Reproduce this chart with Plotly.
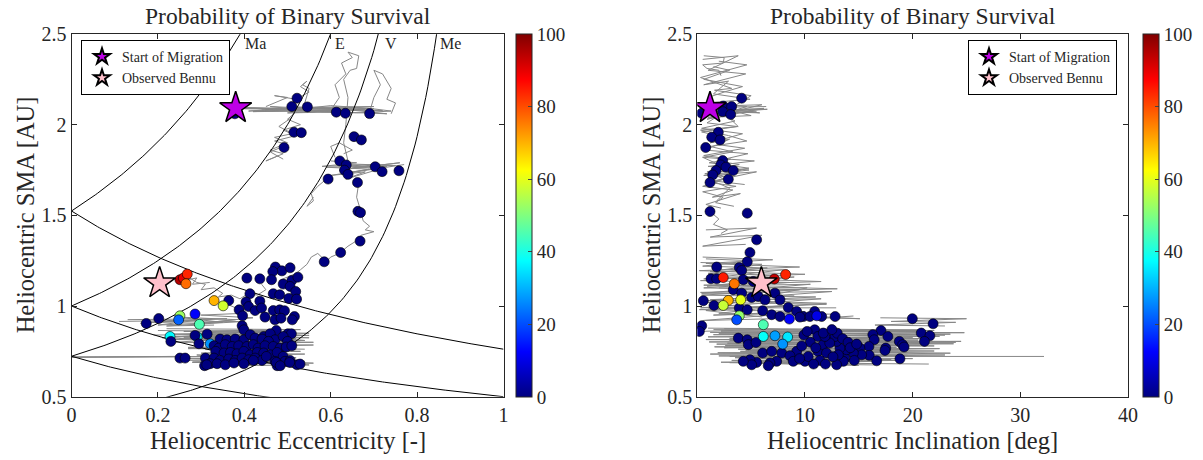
import numpy as np
import plotly.graph_objects as go

# ---------------- data ----------------
# Left panel: end points (eccentricity, SMA, survival probability %)
left_ecc = [0.378, 0.522, 0.510, 0.546, 0.613, 0.634, 0.690, 0.515, 0.532, 0.492, 0.654, 0.671,
            0.621, 0.636, 0.632, 0.640, 0.594, 0.662, 0.703, 0.719, 0.758, 0.663, 0.669,
            0.668, 0.623, 0.585, 0.472, 0.487, 0.506, 0.466, 0.406, 0.436, 0.463, 0.510, 0.524,
            0.490, 0.506, 0.519, 0.413, 0.467, 0.482, 0.503, 0.521, 0.404, 0.436, 0.364, 0.410,
            0.425, 0.440, 0.388, 0.467, 0.482, 0.493, 0.396, 0.448, 0.471, 0.485, 0.516, 0.511,
            0.474, 0.501, 0.509, 0.395, 0.399,
            0.251, 0.259, 0.268, 0.265, 0.330, 0.351, 0.251, 0.248, 0.286, 0.296, 0.228, 0.291, 0.321,
            0.202, 0.173, 0.230, 0.286, 0.314, 0.295, 0.251, 0.263,
            0.344, 0.360, 0.379, 0.399, 0.414, 0.425, 0.445, 0.460, 0.471, 0.490, 0.500, 0.441, 0.456,
            0.330, 0.341, 0.356, 0.372, 0.387, 0.406, 0.421, 0.432, 0.448, 0.467, 0.483, 0.497, 0.510,
            0.334, 0.353, 0.368, 0.383, 0.399, 0.414, 0.430, 0.445, 0.460, 0.476, 0.490,
            0.310, 0.330, 0.344, 0.364, 0.379, 0.395, 0.410, 0.425, 0.441, 0.451, 0.471, 0.494, 0.506,
            0.308, 0.321, 0.337, 0.356, 0.376, 0.399, 0.421, 0.476, 0.522, 0.313, 0.474, 0.483, 0.505, 0.529]
left_sma = [2.060, 2.146, 2.100, 2.098, 2.069, 2.063, 2.061, 1.958, 1.956, 1.874, 1.934, 1.916,
            1.800, 1.778, 1.749, 1.726, 1.700, 1.681, 1.768, 1.741, 1.746, 1.522, 1.515,
            1.358, 1.295, 1.244, 1.215, 1.194, 1.211, 1.190, 1.154, 1.150, 1.145, 1.141, 1.159,
            1.121, 1.108, 1.080, 1.068, 1.068, 1.062, 1.042, 1.038, 1.022, 1.027, 1.030, 0.997,
            0.975, 0.989, 0.979, 0.975, 0.979, 0.974, 0.946, 0.939, 0.924, 0.933, 0.942, 0.924,
            0.865, 0.847, 0.847, 0.891, 0.869,
            1.145, 1.154, 1.176, 1.123, 1.030, 1.001, 0.946, 0.924, 0.956, 0.899, 0.832, 0.830, 0.792,
            0.931, 0.904, 0.805, 0.838, 0.845, 0.792, 0.713, 0.713,
            0.818, 0.814, 0.818, 0.814, 0.842, 0.823, 0.832, 0.847, 0.814, 0.832, 0.805, 0.818, 0.805,
            0.781, 0.768, 0.787, 0.777, 0.781, 0.777, 0.787, 0.768, 0.781, 0.777, 0.768, 0.774, 0.781,
            0.750, 0.741, 0.744, 0.737, 0.750, 0.731, 0.744, 0.741, 0.731, 0.744, 0.722,
            0.713, 0.713, 0.700, 0.708, 0.700, 0.713, 0.704, 0.713, 0.700, 0.722, 0.695, 0.695, 0.700,
            0.671, 0.682, 0.682, 0.676, 0.686, 0.682, 0.700, 0.671, 0.676, 0.676, 0.689, 0.671, 0.689, 0.680]
left_prob = [0] * 64 + [95, 90, 84, 77, 70, 58, 53, 22, 12, 45, 37, 36, 27] + [0] * (len(left_ecc) - 77)

# Right panel: end points (inclination deg, SMA, survival probability %)
right_inc = [0.41, 2.41, 3.19, 2.36, 3.10, 4.12, 1.95, 1.34, 2.11, 0.78,
             2.36, 2.17, 2.66, 3.34, 1.74, 1.43, 2.88, 1.18, 1.18, 4.64,
             5.51, 4.89, 4.64, 3.90, 4.12, 1.80, 1.27, 1.80, 4.27, 5.20,
             3.34, 4.12, 5.05, 5.66, 6.29, 7.21, 7.68, 0.56, 1.55,
             3.90, 4.64, 6.07, 6.91, 7.68, 8.45, 9.23, 9.85, 0.41, 0.19,
             3.81, 4.64, 4.74, 5.45, 6.07, 6.91, 7.84, 9.23, 8.61, 7.37, 6.75, 6.59, 5.51, 4.89, 5.05,
             8.91, 10.0, 10.3, 11.2, 10.9, 11.2, 10.9, 10.46, 9.53, 12.2, 11.7, 4.27,
             12.8, 19.97, 21.9, 17.06, 16.3, 17.7, 16.43, 20.8, 21.6, 21.1, 18.76, 19.07, 19.2, 17.5,
             17.43, 18.82, 15.94, 15.97, 15.1, 15.26, 16.66, 14.49, 14.58, 13.7, 13.56, 13.87, 13.25,
             12.94, 12.78, 12.3, 12.0, 11.85, 11.7, 11.55, 13.1, 12.94,
             10.5, 11.0, 13.0, 13.5, 14.0, 14.2, 14.8, 12.6, 11.4, 9.7, 9.9, 10.2, 12.5, 11.9, 10.8, 9.5,
             2.41, 3.44, 7.15, 8.20, 2.88, 4.03, 2.41, 3.90, 3.66, 8.55, 6.13, 6.13, 7.21, 8.39, 7.93, 11.1]
right_sma = [2.063, 2.103, 2.100, 2.072, 2.056, 2.146, 1.958, 1.931, 1.916, 1.874,
             1.802, 1.778, 1.766, 1.747, 1.747, 1.723, 1.699, 1.681, 1.521, 1.512,
             1.365, 1.295, 1.244, 1.212, 1.196, 1.215, 1.150, 1.150, 1.145, 1.135,
             1.090, 1.071, 1.047, 1.053, 1.034, 1.071, 1.034, 1.029, 1.003,
             0.989, 0.979, 0.974, 0.952, 0.942, 0.992, 0.970, 0.942, 0.891, 0.860,
             0.823, 0.814, 0.787, 0.799, 0.741, 0.750, 0.741, 0.750, 0.726, 0.695, 0.686, 0.671, 0.689, 0.704, 0.676,
             0.695, 0.695, 0.722, 0.750, 0.869, 0.832, 0.970, 0.942, 0.939, 0.814, 0.787, 0.695,
             0.942, 0.930, 0.902, 0.865, 0.842, 0.832, 0.814, 0.851, 0.836, 0.805, 0.805, 0.787, 0.774, 0.768,
             0.755, 0.709, 0.777, 0.728, 0.768, 0.731, 0.698, 0.741, 0.700, 0.713, 0.695, 0.759, 0.768,
             0.805, 0.832, 0.796, 0.741, 0.832, 0.851, 0.942, 0.731, 0.676,
             0.800, 0.770, 0.850, 0.820, 0.800, 0.770, 0.790, 0.720, 0.700, 0.780, 0.840, 0.860, 0.870, 0.680, 0.680, 0.710,
             1.157, 1.123, 1.149, 1.174, 1.031, 1.034, 1.003, 0.946, 0.924, 0.928, 0.897, 0.832, 0.836, 0.829, 0.790, 0.946]
right_prob = [0] * (len(right_inc) - 16) + [85, 76, 93, 84, 70, 60, 57, 52, 20, 12, 45, 38, 28, 35, 27, 10]

# Reference objects
start_ecc, start_sma, start_inc = 0.380, 2.092, 1.18
bennu_ecc, bennu_sma, bennu_inc = 0.204, 1.126, 5.95

# Planet semi-major axes (AU) for crossing curves
planet_names = ["Me", "V", "E", "Ma"]
planet_sma = [0.387, 0.723, 1.000, 1.524]

# Gray migration tracks (None separates tracks) - left panel (ecc, sma)
track_l_ecc = [0.38, 0.47, 0.41, 0.55, 0.44, 0.62, 0.50, 0.68, 0.57, 0.73, 0.61, 0.70, 0.53, 0.64, 0.46, 0.58, 0.66, 0.74, 0.69, 0.60, 0.52, None,
               0.40, 0.65, 0.45, 0.72, 0.50, 0.70, 0.42, 0.60, 0.39, 0.67, None,
               0.45, 0.48, 0.50, 0.47, 0.52, 0.55, 0.53, 0.545, 0.535, 0.55, 0.54, None,
               0.52, 0.50, 0.53, 0.49, 0.51, 0.47, 0.50, 0.48, 0.46, 0.49, 0.47, 0.45, 0.48, None,
               0.51, 0.48, 0.52, 0.47, 0.50, 0.46, 0.49, None,
               0.60, 0.62, 0.61, 0.635, 0.625, 0.65, 0.64, 0.665, 0.66, 0.645, 0.63, 0.64, 0.635, 0.63, 0.64, None,
               0.69, 0.70, 0.715, 0.70, 0.72, 0.74, 0.73, 0.75, 0.74, None,
               0.61, 0.60, 0.62, 0.65, 0.63, None,
               0.60, 0.66, 0.58, 0.70, 0.62, 0.76, 0.65, 0.73, 0.60, 0.68, 0.635, 0.72, 0.64, None,
               0.62, 0.75, 0.59, 0.69, 0.63, 0.77, None,
               0.59, 0.57, 0.555, 0.56, 0.545, 0.56, None,
               0.665, 0.66, 0.67, 0.675, 0.69, 0.68, 0.70, 0.67, 0.66, 0.64, 0.62, 0.60, 0.59, 0.57, 0.555, 0.545, 0.53, 0.52, 0.50, 0.48, None,
               0.255, 0.27, 0.29, 0.31, 0.30, 0.33, 0.35, 0.34, 0.37, 0.39, 0.41, 0.43, 0.45, 0.44, None,
               0.26, 0.29, 0.28, 0.32, None,
               0.33, 0.36, 0.38, 0.40, 0.42, None,
               0.11, 0.25, 0.16, 0.32, 0.20, 0.35, 0.24, 0.38, 0.28, 0.42, 0.30, 0.40, None,
               0.13, 0.36, 0.18, 0.40, 0.22, 0.33, None,
               0.19, 0.45, 0.22, 0.52, 0.25, 0.55, 0.28, 0.50, 0.24, 0.54, 0.30, 0.47, 0.21, 0.53, None,
               0.22, 0.53, 0.26, 0.55, 0.24, 0.50, 0.31, 0.56, 0.27, 0.52, 0.30, 0.54, 0.35, 0.49, 0.28, 0.51, None,
               0.20, 0.48, 0.23, 0.55, 0.26, 0.52, 0.29, 0.56, 0.33, 0.50, 0.27, 0.54, None,
               0.0, 0.30, 0.0, 0.28, 0.0, 0.33, 0.0, 0.27, None,
               0.25, 0.50, 0.28, 0.54, 0.30, 0.56, 0.27, 0.52, 0.32, 0.55, 0.29, 0.48, 0.33, 0.53, 0.31, 0.50]
track_l_sma = [2.09, 2.085, 2.075, 2.095, 2.08, 2.07, 2.065, 2.085, 2.075, 2.06, 2.09, 2.10, 2.095, 2.08, 2.10, 2.07, 2.065, 2.075, 2.09, 2.105, 2.085, None,
               2.088, 2.092, 2.082, 2.078, 2.098, 2.088, 2.072, 2.076, 2.095, 2.082, None,
               2.10, 2.13, 2.15, 2.16, 2.14, 2.18, 2.21, 2.24, 2.22, 2.20, 2.12, None,
               2.07, 2.03, 2.00, 1.97, 1.95, 1.93, 1.90, 1.88, 1.86, 1.84, 1.82, 1.80, 1.83, None,
               2.04, 1.99, 1.94, 1.91, 1.89, 1.85, 1.81, None,
               2.08, 2.15, 2.22, 2.28, 2.34, 2.37, 2.40, 2.38, 2.31, 2.30, 2.25, 2.15, 2.00, 1.90, 1.80, None,
               2.07, 2.15, 2.22, 2.30, 2.28, 2.20, 2.14, 2.12, 2.06, None,
               1.82, 1.88, 1.90, 1.86, 1.84, None,
               1.80, 1.79, 1.77, 1.78, 1.75, 1.79, 1.76, 1.77, 1.72, 1.74, 1.70, 1.76, 1.78, None,
               1.785, 1.775, 1.765, 1.755, 1.73, 1.78, None,
               1.70, 1.66, 1.62, 1.58, 1.55, 1.60, None,
               1.68, 1.60, 1.52, 1.47, 1.44, 1.42, 1.41, 1.39, 1.36, 1.33, 1.29, 1.27, 1.245, 1.29, 1.27, 1.23, 1.20, 1.18, 1.16, 1.14, None,
               1.15, 1.16, 1.13, 1.12, 1.09, 1.10, 1.07, 1.05, 1.06, 1.04, 1.07, 1.06, 1.09, 1.12, None,
               1.14, 1.155, 1.12, 1.13, None,
               1.03, 1.01, 0.99, 1.00, 0.97, None,
               0.915, 0.92, 0.905, 0.93, 0.895, 0.91, 0.94, 0.925, 0.90, 0.935, 0.95, 0.96, None,
               0.925, 0.93, 0.91, 0.915, 0.89, 0.895, None,
               0.84, 0.845, 0.83, 0.835, 0.82, 0.825, 0.85, 0.855, 0.815, 0.81, 0.86, 0.865, 0.825, 0.80, None,
               0.875, 0.87, 0.86, 0.85, 0.80, 0.795, 0.79, 0.785, 0.765, 0.76, 0.74, 0.735, 0.725, 0.715, 0.69, 0.68, None,
               0.865, 0.858, 0.845, 0.838, 0.828, 0.82, 0.81, 0.80, 0.79, 0.782, 0.772, 0.762, None,
               0.720, 0.720, 0.722, 0.718, 0.719, 0.721, 0.717, 0.723, None,
               0.70, 0.705, 0.69, 0.695, 0.68, 0.685, 0.71, 0.715, 0.67, 0.675, 0.73, 0.735, 0.745, 0.75, 0.76, 0.77]

# Gray migration tracks - right panel (inclination, sma)
track_r_inc = [0.5, 3.8, 1.0, 4.5, 0.6, 2.9, 1.5, 4.9, 0.8, 3.5, 0.4, 4.2, 1.2, 3.0, 0.7, 4.7, 1.8, 3.9, 0.9, 2.5, 0.5, 3.3, 1.4, 4.0, 0.8, 2.2, None,
               2.0, 4.6, 0.3, 3.2, 1.6, 5.0, 0.9, 3.7, 0.4, 2.6, 1.9, 4.4, 0.6, 3.1, 1.1, 4.8, 0.7, 2.8, 1.3, 3.6, 0.5, 2.4, 1.7, 3.4, None,
               1.5, 3.0, 0.6, 4.2, 2.5, 1.0, 3.8, 0.3, 2.9, 4.6, 1.2, 3.3, 0.5, 2.0, 4.1, 1.0, 3.0, 1.8, None,
               0.6, 2.5, 2.4, 0.5, 0.9, 2.0, 2.2, None,
               0.3, 6.5, 0.8, 5.5, 0.5, 6.0, 1.0, 5.0, 0.4, 4.6, 0.9, 6.2, 0.6, 5.8, 1.2, 6.4, None,
               0.5, 5.3, 1.0, 4.8, 0.6, 5.5, 1.5, 4.4, None,
               1.2, 2.0, 1.5, 2.8, 2.2, None,
               0.8, 5.5, 1.2, 6.0, 0.5, 4.5, None,
               0.8, 5.0, 0.5, 6.5, 1.0, 7.5, 0.3, 8.5, 0.6, 9.5, 0.4, 11.0, 0.8, 12.0, 0.2, 10.0, 1.5, 9.0, 0.5, 7.0, None,
               0.3, 6.0, 1.2, 8.0, 0.6, 9.0, 0.9, 10.5, 0.4, 12.5, 1.0, 11.5, 0.3, 8.0, 2.0, 13.0, None,
               0.5, 7.0, 0.8, 9.5, 0.2, 10.0, 1.4, 11.5, 0.6, 13.0, 0.3, 9.0, 1.2, 12.0, 0.8, 6.0, None,
               2.0, 10.2, 1.0, 12.9, None,
               1.5, 22.0, 2.0, 23.5, 1.0, 20.0, 3.0, 24.5, 1.8, 21.0, 2.5, 22.5, 4.0, 19.5, 1.2, 23.0, 3.5, 18.0, 2.2, 21.5, None,
               2.5, 20.5, 1.2, 23.0, 3.5, 21.5, 0.8, 24.0, 2.8, 22.0, 1.6, 19.0, 4.5, 23.5, 2.0, 20.0, 3.2, 17.0, 5.0, 16.5, None,
               1.0, 21.0, 2.2, 24.8, 1.5, 22.5, 3.0, 20.5, 1.1, 23.8, 2.6, 18.5, 3.8, 22.0, 1.9, 19.5, 4.2, 18.5, 3.0, 15.0, None,
               3.0, 32.2, None,
               17.0, 25.0, 18.0, 24.0, 16.5, 23.0, None,
               11.7, 15.1, 12.0, 14.5, None,
               0.2, 6.0]
track_r_sma = [2.36, 2.38, 2.30, 2.28, 2.22, 2.24, 2.17, 2.14, 2.12, 2.02, 1.98, 1.95, 1.90, 1.92, 1.86, 1.84, 1.80, 1.78, 1.74, 1.70, 1.66, 1.64, 1.60, 1.62, 1.56, 1.54, None,
               2.35, 2.33, 2.26, 2.20, 2.19, 2.16, 2.01, 1.99, 1.96, 1.93, 1.89, 1.87, 1.83, 1.81, 1.79, 1.76, 1.73, 1.71, 1.68, 1.66, 1.63, 1.60, 1.57, 1.55, None,
               2.32, 2.30, 2.25, 2.21, 2.18, 2.15, 1.99, 1.97, 1.94, 1.91, 1.88, 1.85, 1.82, 1.78, 1.75, 1.70, 1.65, 1.58, None,
               2.38, 2.37, 2.34, 2.33, 2.31, 2.30, 2.27, None,
               2.08, 2.085, 2.06, 2.07, 2.10, 2.11, 2.04, 2.05, 2.12, 2.10, 2.03, 2.09, 2.075, 2.065, 2.095, 2.1, None,
               1.82, 1.80, 1.77, 1.75, 1.72, 1.74, 1.69, 1.67, None,
               1.52, 1.48, 1.45, 1.42, 1.40, None,
               1.42, 1.43, 1.38, 1.39, 1.33, 1.34, None,
               1.26, 1.25, 1.22, 1.21, 1.18, 1.17, 1.14, 1.13, 1.10, 1.09, 1.06, 1.05, 1.02, 1.01, 0.98, 0.97, 0.95, 0.96, 0.92, 0.93, None,
               1.24, 1.23, 1.19, 1.20, 1.15, 1.16, 1.11, 1.12, 1.07, 1.08, 1.03, 1.04, 0.99, 1.00, 0.96, 0.955, None,
               1.27, 1.255, 1.235, 1.215, 1.195, 1.175, 1.155, 1.135, 1.115, 1.095, 1.075, 1.055, 1.035, 1.015, 0.975, 0.94, None,
               1.10, 1.10, 0.99, 0.99, None,
               0.87, 0.865, 0.85, 0.845, 0.83, 0.825, 0.81, 0.805, 0.79, 0.785, 0.77, 0.765, 0.75, 0.745, 0.735, 0.73, 0.715, 0.705, 0.69, 0.68, None,
               0.875, 0.86, 0.855, 0.84, 0.835, 0.82, 0.815, 0.80, 0.795, 0.78, 0.775, 0.76, 0.755, 0.74, 0.725, 0.71, 0.70, 0.695, 0.685, 0.675, None,
               0.878, 0.868, 0.862, 0.853, 0.842, 0.833, 0.822, 0.812, 0.802, 0.792, 0.782, 0.772, 0.762, 0.752, 0.742, 0.728, 0.712, 0.700, 0.688, 0.672, None,
               0.722, 0.722, None,
               0.935, 0.93, 0.915, 0.91, 0.895, 0.89, None,
               0.94, 0.93, 0.935, 0.945, None,
               0.86, 0.87]

# colorbar / axis ticks
cbar_ticks = [0, 20, 40, 60, 80, 100]
ecc_ticks = [0, 0.2, 0.4, 0.6, 0.8, 1]
inc_ticks = [0, 10, 20, 30, 40]
sma_ticks = [0.5, 1, 1.5, 2, 2.5]

# ---------------- figure ----------------
W, H = 1203, 460
FONT = "Liberation Serif"
INK = "rgb(38,38,38)"
jet = [[0, "rgb(0,0,128)"], [0.125, "rgb(0,0,255)"], [0.375, "rgb(0,255,255)"],
       [0.625, "rgb(255,255,0)"], [0.875, "rgb(255,0,0)"], [1, "rgb(128,0,0)"]]

def px(x):
    return x / W

def py(y):
    return (H - y) / H

L0, L1 = 71.5, 503.5
R0, R1 = 697.3, 1128.0
T, B = 34.0, 396.7

fig = go.Figure()
gray = "rgb(135,135,135)"

# tracks
fig.add_trace(go.Scatter(x=track_l_ecc, y=track_l_sma, mode="lines", line=dict(color=gray, width=1),
                         xaxis="x", yaxis="y", showlegend=False, hoverinfo="skip"))
fig.add_trace(go.Scatter(x=track_r_inc, y=track_r_sma, mode="lines", line=dict(color=gray, width=1),
                         xaxis="x2", yaxis="y2", showlegend=False, hoverinfo="skip"))

# planet crossing curves
e_grid = np.linspace(0, 1, 201)
for name, ap in zip(planet_names, planet_sma):
    fig.add_trace(go.Scatter(x=e_grid, y=ap / (1 - np.minimum(e_grid, 0.999)), mode="lines",
                             line=dict(color="black", width=1), xaxis="x", yaxis="y",
                             showlegend=False, hoverinfo="skip"))
    fig.add_trace(go.Scatter(x=e_grid, y=ap / (1 + e_grid), mode="lines",
                             line=dict(color="black", width=1), xaxis="x", yaxis="y",
                             showlegend=False, hoverinfo="skip"))

# scatter end points
mk = dict(size=10, line=dict(color="black", width=0.6))
fig.add_trace(go.Scatter(x=left_ecc, y=left_sma, mode="markers", xaxis="x", yaxis="y", showlegend=False,
                         marker=dict(color=left_prob, coloraxis="coloraxis", **mk)))
fig.add_trace(go.Scatter(x=right_inc, y=right_sma, mode="markers", xaxis="x2", yaxis="y2", showlegend=False,
                         marker=dict(color=right_prob, coloraxis="coloraxis2", **mk)))

# stars
for ax, ay, lg, xs, xb in [("x", "y", "legend", start_ecc, bennu_ecc), ("x2", "y2", "legend2", start_inc, bennu_inc)]:
    fig.add_trace(go.Scatter(x=[xs], y=[start_sma], mode="markers", name="Start of Migration",
                             xaxis=ax, yaxis=ay, legend=lg,
                             marker=dict(symbol="star", size=24, color="rgb(190,0,230)",
                                         line=dict(color="black", width=1.5))))
    fig.add_trace(go.Scatter(x=[xb], y=[bennu_sma], mode="markers", name="Observed Bennu",
                             xaxis=ax, yaxis=ay, legend=lg,
                             marker=dict(symbol="star", size=24, color="rgb(255,192,203)",
                                         line=dict(color="black", width=1.5))))

axis_common = dict(showgrid=False, zeroline=False, showline=True, linecolor=INK, linewidth=1,
                   mirror="ticks", ticks="inside", ticklen=5, tickcolor=INK,
                   tickfont=dict(family=FONT, size=20, color=INK))

cb_common = dict(thickness=16, len=(B - T) / H, lenmode="fraction", y=py((T + B) / 2), yanchor="middle",
                 tickvals=cbar_ticks, ticks="inside", ticklen=4, outlinecolor=INK, outlinewidth=1,
                 tickfont=dict(family=FONT, size=19, color=INK), xanchor="left", xpad=0, ypad=0)

fig.update_layout(
    width=W, height=H, margin=dict(l=0, r=0, t=0, b=0, autoexpand=False),
    paper_bgcolor="white", plot_bgcolor="white",
    xaxis=dict(domain=[px(L0), px(L1)], range=[0, 1], tickvals=ecc_ticks, anchor="y", **axis_common),
    yaxis=dict(domain=[py(B), py(T)], range=[0.5, 2.5], tickvals=sma_ticks, anchor="x", **axis_common),
    xaxis2=dict(domain=[px(R0), px(R1)], range=[0, 40], tickvals=inc_ticks, anchor="y2", **axis_common),
    yaxis2=dict(domain=[py(B), py(T)], range=[0.5, 2.5], tickvals=sma_ticks, anchor="x2", **axis_common),
    coloraxis=dict(colorscale=jet, cmin=0, cmax=100, colorbar=dict(x=px(516), **cb_common)),
    coloraxis2=dict(colorscale=jet, cmin=0, cmax=100, colorbar=dict(x=px(1143), **cb_common)),
    legend=dict(x=px(81), y=py(40), xanchor="left", yanchor="top", bgcolor="white",
                bordercolor="black", borderwidth=1, font=dict(family=FONT, size=14, color=INK),
                itemsizing="constant", tracegroupgap=0, itemwidth=30),
    legend2=dict(x=px(1117), y=py(40), xanchor="right", yanchor="top", bgcolor="white",
                 bordercolor="black", borderwidth=1, font=dict(family=FONT, size=14, color=INK),
                 itemsizing="constant", tracegroupgap=0, itemwidth=30),
    showlegend=True,
)

title_font = dict(family=FONT, size=23.5, color=INK)
label_font = dict(family=FONT, size=24.5, color=INK)
annotations = [
    dict(text="Probability of Binary Survival", x=px((L0 + L1) / 2), y=py(16), xref="paper", yref="paper",
         showarrow=False, font=title_font, xanchor="center", yanchor="middle"),
    dict(text="Probability of Binary Survival", x=px((R0 + R1) / 2), y=py(16), xref="paper", yref="paper",
         showarrow=False, font=title_font, xanchor="center", yanchor="middle"),
    dict(text="Heliocentric Eccentricity [-]", x=px((L0 + L1) / 2), y=py(440), xref="paper", yref="paper",
         showarrow=False, font=label_font, xanchor="center", yanchor="middle"),
    dict(text="Heliocentric Inclination [deg]", x=px((R0 + R1) / 2), y=py(440), xref="paper", yref="paper",
         showarrow=False, font=label_font, xanchor="center", yanchor="middle"),
    dict(text="Heliocentric SMA [AU]", x=px(25), y=py((T + B) / 2), xref="paper", yref="paper",
         showarrow=False, font=label_font, textangle=-90, xanchor="center", yanchor="middle"),
    dict(text="Heliocentric SMA [AU]", x=px(651), y=py((T + B) / 2), xref="paper", yref="paper",
         showarrow=False, font=label_font, textangle=-90, xanchor="center", yanchor="middle"),
]
label_pos = {"Ma": 0.397, "E": 0.605, "V": 0.72, "Me": 0.848}
for name in planet_names:
    annotations.append(dict(text=name, x=label_pos[name], y=2.45, xref="x", yref="y", showarrow=False,
                            font=dict(family=FONT, size=16, color=INK), xanchor="left", yanchor="middle"))
fig.update_layout(annotations=annotations)

fig.write_html("out.html")
